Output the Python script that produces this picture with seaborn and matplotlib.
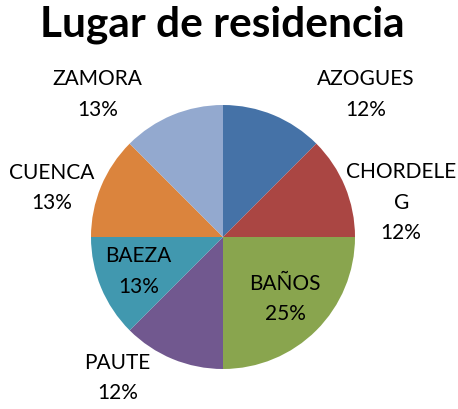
import numpy as np
import matplotlib
matplotlib.use("Agg")
import matplotlib.pyplot as plt
import seaborn as sns

# -- Data ---------------------------------------------------------------------
places = ["AZOGUES", "CHORDELEG", "BAÑOS", "PAUTE", "BAEZA", "CUENCA", "ZAMORA"]
shares = [12.5, 12.5, 25.0, 12.5, 12.5, 12.5, 12.5]
pct_labels = ["12%", "12%", "25%", "12%", "13%", "13%", "13%"]
label_names = ["AZOGUES", "CHORDELE\nG", "BAÑOS", "PAUTE", "BAEZA", "CUENCA", "ZAMORA"]

colors = ["#4572A7", "#AA4643", "#89A54E", "#71588F", "#4198AF", "#DB843D", "#93A9CF"]
# label positions in units of pie radius (Excel "best fit" placement)
label_pos = [(1.08, 1.08), (1.35, 0.26), (0.47, -0.47), (-0.80, -1.07),
             (-0.64, -0.26), (-1.30, 0.37), (-0.95, 1.08)]

sns.set_theme(style="white")
plt.rcParams["font.family"] = ["Lato", "DejaVu Sans"]

W, H, DPI = 458, 409, 100
cx, cy, r = 223, 237, 132

fig = plt.figure(figsize=(W / DPI, H / DPI), dpi=DPI)
ax = fig.add_axes([0, 0, 1, 1])
ax.pie(shares, colors=colors, startangle=90, counterclock=False,
       wedgeprops=dict(linewidth=0))
ax.set_xlim(-cx / r, (W - cx) / r)
ax.set_ylim(-(H - cy) / r, cy / r)
ax.set_aspect("equal")
ax.axis("off")

for name, pct, (lx, ly) in zip(label_names, pct_labels, label_pos):
    ax.text(lx, ly, f"{name}\n{pct}", ha="center", va="center",
            fontsize=15, color="black", linespacing=1.65)

fig.text(222 / W, 1 - 37 / H, "Lugar de residencia", ha="center", va="baseline",
         fontsize=30.5, fontweight="bold", color="black")

fig.savefig("out.png", dpi=DPI)
plt.close(fig)
